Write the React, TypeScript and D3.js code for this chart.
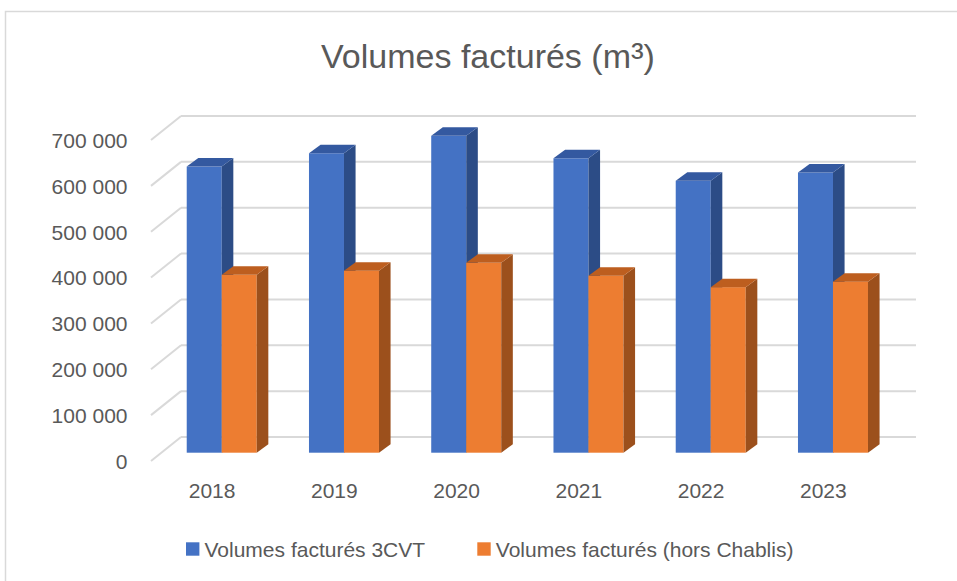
import React from "react";
import * as d3 from "d3";

const years = ["2018", "2019", "2020", "2021", "2022", "2023"];
const volumes3CVT = [624000, 653000, 691000, 642000, 593000, 611000];
const volumesHorsChablis = [388000, 397000, 414000, 386000, 361000, 373000];
const yTicks = [0, 100000, 200000, 300000, 400000, 500000, 600000, 700000];
const seriesNames = ["Volumes facturés 3CVT", "Volumes facturés (hors Chablis)"];
const titleMain = "Volumes facturés (m";
const titleSup = "³";
const titleEnd = ")";

const W = 957;
const H = 581;
const FONT = "'Liberation Sans', Arial, sans-serif";
const TEXT = "#595959";
const GRID = "#D9D9D9";

const colors = [
  { front: "#4472C4", side: "#2C4C86", top: "#3459A0" },
  { front: "#ED7D31", side: "#9C501C", top: "#BD5E1F" },
];

// projection constants
const floorFront = 461; // y of value 0 at front edge
const wallDx = 30;
const wallDy = 24;
const barFrontDx = 9.6;
const barFrontDy = 8.3;
const barDepthDx = 11.6;
const barDepthDy = 8.5;
const barW = 35;

const locale = d3.formatLocale({ decimal: ",", thousands: " ", grouping: [3], currency: ["", ""] });
const fmt = locale.format(",");

export default function App() {
  const x = d3.scaleBand<string>().domain(years).range([151, 884.5]).paddingInner(0).paddingOuter(0);
  const h = d3.scaleLinear().domain([0, 700000]).range([0, 321]);

  const wallX0 = 151 + wallDx;
  const wallX1 = 886 + wallDx;

  const series = [volumes3CVT, volumesHorsChablis];

  const bars: React.ReactNode[] = [];
  years.forEach((yr, i) => {
    const center = (x(yr) as number) + x.bandwidth() / 2;
    const split = center + barFrontDx;
    series.forEach((vals, s) => {
      const x0 = s === 0 ? split - barW : split;
      const x1 = x0 + barW;
      const base = floorFront - barFrontDy;
      const top = base - h(vals[i]);
      const c = colors[s];
      bars.push(
        <g key={`${yr}-${s}`}>
          <rect x={x0} y={top} width={barW} height={base - top} fill={c.front} />
          <polygon
            points={`${x1},${top} ${x1 + barDepthDx},${top - barDepthDy} ${x1 + barDepthDx},${base - barDepthDy} ${x1},${base}`}
            fill={c.side}
          />
          <polygon
            points={`${x0},${top} ${x0 + barDepthDx},${top - barDepthDy} ${x1 + barDepthDx},${top - barDepthDy} ${x1},${top}`}
            fill={c.top}
          />
        </g>
      );
    });
  });

  return (
    <svg width={W} height={H} style={{ position: "absolute", left: 0, top: 0, background: "#fff" }} fontFamily={FONT}>
      <rect x={0} y={0} width={W} height={H} fill="#fff" />
      <rect x={5.5} y={11.5} width={1000} height={700} fill="none" stroke={GRID} strokeWidth={1.5} />
      <text x={488} y={68.3} textAnchor="middle" fontSize={34} fill={TEXT}>
        {titleMain}
        <tspan fontSize={38} dy={1}>{titleSup}</tspan>
        <tspan dy={-1}>{titleEnd}</tspan>
      </text>
      {yTicks.map((t) => {
        const yf = floorFront - h(t);
        return (
          <g key={t}>
            <line x1={wallX0} x2={wallX1} y1={yf - wallDy} y2={yf - wallDy} stroke={GRID} strokeWidth={2} />
            <line x1={151} x2={wallX0} y1={yf} y2={yf - wallDy} stroke={GRID} strokeWidth={2} />
            <text x={127.5} y={yf + 7.8} textAnchor="end" fontSize={21} fill={TEXT}>
              {fmt(t)}
            </text>
          </g>
        );
      })}
      {bars}
      {years.map((yr) => (
        <text key={yr} x={(x(yr) as number) + x.bandwidth() / 2} y={498.3} textAnchor="middle" fontSize={21} fill={TEXT}>
          {yr}
        </text>
      ))}
      {seriesNames.map((n, s) => {
        const lx = s === 0 ? 186 : 477.3;
        return (
          <g key={n}>
            <rect x={lx} y={542.3} width={13.4} height={13.4} fill={colors[s].front} />
            <text x={lx + 18.5} y={556.7} fontSize={21} fill={TEXT}>
              {n}
            </text>
          </g>
        );
      })}
    </svg>
  );
}
